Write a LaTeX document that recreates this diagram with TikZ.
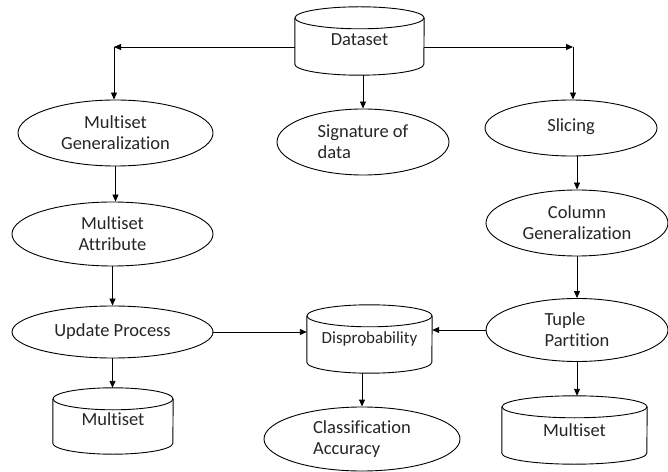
\documentclass[tikz,border=0pt]{standalone}
\usepackage{fontspec}
\setmainfont{Carlito}[Ligatures=NoCommon]
\usetikzlibrary{arrows.meta,shapes.geometric}
\newcommand\cylout[2]{%
  \draw[ln] ([yshift=-11pt]#1.north west) -- ([yshift=11pt]#1.south west)
    arc[start angle=180,end angle=360,x radius=#2,y radius=11pt]
    -- ([yshift=-11pt]#1.north east);
  \draw[ln] ([yshift=-11pt]#1.north) ellipse[x radius=#2,y radius=11pt];
}
\begin{document}
\begin{tikzpicture}[x=1pt,y=1pt,
  ln/.style={line width=0.9pt, draw=black},
  proc/.style={ellipse, draw, line width=0.9pt, inner sep=0pt, text=black!85,
    font=\fontsize{18.5pt}{21pt}\selectfont},
  dbcyl/.style={rectangle, inner sep=0pt, text=black!85,
    font=\fontsize{18.5pt}{21pt}\selectfont},
  arr/.style={line width=0.9pt, -{Triangle[length=7pt,width=6pt]}}]
\useasboundingbox[fill=white] (0,0) rectangle (668,471);

% cylinders
\node[dbcyl, minimum width=129pt, minimum height=68pt] (ds) at (359.5,430) {\raisebox{2pt}{Dataset}};
\node[dbcyl, minimum width=125pt, minimum height=68pt, font=\fontsize{17pt}{20pt}\selectfont] (dp) at (369.5,132) {Disprobability};
\node[dbcyl, minimum width=120pt, minimum height=66pt] (m1) at (113,50) {\raisebox{3pt}{Multiset}};
\node[dbcyl, minimum width=145pt, minimum height=68pt] (m2) at (574.5,41) {Multiset};
\cylout{ds}{64.5pt}
\cylout{dp}{62.5pt}
\cylout{m1}{60pt}
\cylout{m2}{72.5pt}

% ellipses
\node[proc, minimum width=195pt, minimum height=66pt, align=center] (mg) at (115.5,338) {Multiset\\Generalization};
\node[proc, minimum width=172pt, minimum height=66pt, align=left] (sig) at (363,329) {Signature of\\data};
\node[proc, minimum width=172pt, minimum height=56pt] (sl) at (571,343) {\raisebox{5pt}{Slicing}};
\node[proc, minimum width=182pt, minimum height=66pt, align=center] (cg) at (577,248) {Column\\Generalization};
\node[proc, minimum width=201pt, minimum height=64pt, align=center] (ma) at (112.5,237) {Multiset\\Attribute};
\node[proc, minimum width=201pt, minimum height=52pt] (up) at (112.5,139) {\raisebox{4pt}{Update Process}};
\node[proc, minimum width=182pt, minimum height=63pt, align=left] (tp) at (577,141) {Tuple\\Partition};
\node[proc, minimum width=196pt, minimum height=64pt, align=left] (ca) at (362,32) {Classification\\Accuracy};

% corner points
\coordinate (lc) at (114,424);
\coordinate (rc) at (573,424);

% connectors
\draw[arr] (ds.west |- lc) -- (lc);
\draw[arr] (lc) -- (lc |- mg.north);
\draw[arr] (ds.east |- rc) -- (rc);
\draw[arr] (rc) -- (rc |- sl.north);
\draw[arr] (sig.north |- ds.south) -- (sig.north);
\draw[arr] (mg.south) -- (mg.south |- ma.north);
\draw[arr] (ma.south) -- (ma.south |- up.north);
\draw[arr] (up.south) -- (up.south |- m1.north);
\draw[arr] (up.east) -- (up.east -| dp.west);
\draw[arr] (tp.west) -- (tp.west -| dp.east);
\draw[arr] (ca.north |- dp.south) -- (ca.north);
\draw[arr] (cg.north |- sl.south) -- (cg.north);
\draw[arr] (cg.south) -- (cg.south |- tp.north);
\draw[arr] (tp.south) -- (tp.south |- m2.north);
\end{tikzpicture}
\end{document}
